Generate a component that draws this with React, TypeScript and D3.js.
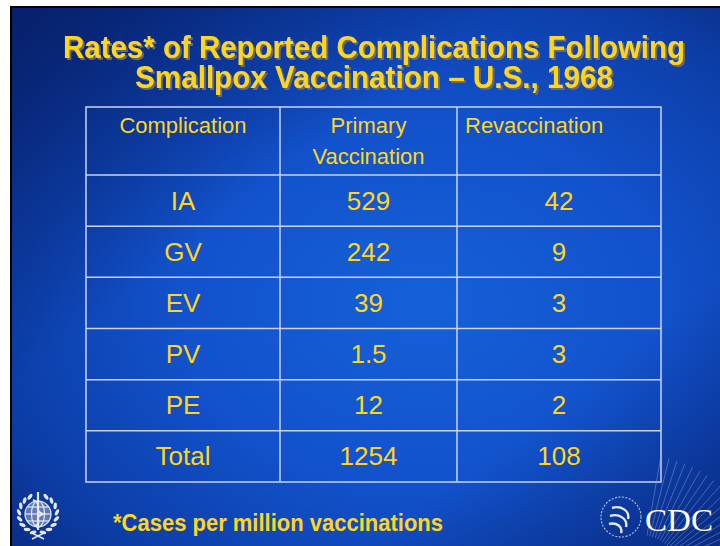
import * as React from "react";
import * as d3 from "d3";

// table content
const complications = ["IA", "GV", "EV", "PV", "PE", "Total"];
const primaryRates = ["529", "242", "39", "1.5", "12", "1254"];
const revaccRates = ["42", "9", "3", "3", "2", "108"];
const headers = ["Complication", "Primary\nVaccination", "Revaccination"];

const titleLines = [
  "Rates* of Reported Complications Following",
  "Smallpox Vaccination \u2013 U.S., 1968",
];
const footnote = "*Cases per million vaccinations";

const W = 720;
const H = 546;
const YELLOW = "#FFD61C";
const LINE = "#c9d3ee";

export default function App() {
  const colEdges = [86, 280, 457, 661];
  const tableTop = 107;
  const headBottom = 175;
  const tableBottom = 482;

  const y = d3.scaleBand<string>().domain(complications).range([headBottom, tableBottom]);
  const colMid = (i: number) => (colEdges[i] + colEdges[i + 1]) / 2;

  const cols = [complications, primaryRates, revaccRates];

  const rays = d3.range(0, 22).map((i) => {
    const a = (-80 + i * 4) * (Math.PI / 180);
    return { x1: 640 + Math.cos(a) * 40, y1: 575 + Math.sin(a) * 40, x2: 640 + Math.cos(a) * 120, y2: 575 + Math.sin(a) * 120 };
  });

  // wreath leaves, left side from bottom to top (y down)
  const leaves = d3.range(0, 8).map((i) => 105 + i * 20);

  return (
    <svg width={W} height={H} style={{ position: "absolute", left: 0, top: 0 }} fontFamily="'Liberation Sans', Arial, sans-serif">
      <defs>
        <radialGradient id="bg" cx="0.58" cy="0.55" r="0.75">
          <stop offset="0" stopColor="#1560d8" />
          <stop offset="0.45" stopColor="#1252cc" />
          <stop offset="0.8" stopColor="#0c3ea8" />
          <stop offset="1" stopColor="#0a2c82" />
        </radialGradient>
        <linearGradient id="tl" x1="0" y1="0" x2="1" y2="1">
          <stop offset="0" stopColor="#071f6a" stopOpacity="0.85" />
          <stop offset="0.35" stopColor="#071f6a" stopOpacity="0" />
          <stop offset="0.75" stopColor="#071f6a" stopOpacity="0" />
          <stop offset="1" stopColor="#071f6a" stopOpacity="0.6" />
        </linearGradient>
        <filter id="shadow" x="-10%" y="-50%" width="120%" height="200%">
          <feDropShadow dx={2} dy={2} stdDeviation={0.3} floodColor="#6a6a74" floodOpacity={1} />
        </filter>
      </defs>
      <rect width={W} height={H} fill="#fff" />
      <rect x={10} y={6} width={W - 10} height={H - 6} fill="#000" />
      <rect x={12} y={8} width={W - 12} height={H - 8} fill="url(#bg)" />
      <rect x={12} y={8} width={W - 12} height={H - 8} fill="url(#tl)" />

      {/* title */}
      <g fontWeight="bold" fontSize={32} textAnchor="middle" fill={YELLOW} filter="url(#shadow)">
        {titleLines.map((t, i) => (
          <text key={t} x={374} y={58 + i * 30} textLength={i === 0 ? 622 : 478} lengthAdjust="spacingAndGlyphs">
            {t}
          </text>
        ))}
      </g>

      {/* table grid */}
      <g stroke={LINE} strokeWidth={1.5} fill="none">
        <rect x={colEdges[0]} y={tableTop} width={colEdges[3] - colEdges[0]} height={tableBottom - tableTop} />
        {colEdges.slice(1, 3).map((x) => (
          <line key={x} x1={x} x2={x} y1={tableTop} y2={tableBottom} />
        ))}
        {complications.map((c) => (
          <line key={c} x1={colEdges[0]} x2={colEdges[3]} y1={y(c)} y2={y(c)} />
        ))}
      </g>

      {/* header */}
      <g fill={YELLOW} fontSize={22}>
        <text x={colMid(0)} y={133} textAnchor="middle">{headers[0]}</text>
        {headers[1].split("\n").map((s, i) => (
          <text key={s} x={colMid(1)} y={133 + i * 31} textAnchor="middle">{s}</text>
        ))}
        <text x={colEdges[2] + 8} y={133}>{headers[2]}</text>
      </g>

      {/* body */}
      <g fill={YELLOW} fontSize={26} textAnchor="middle">
        {cols.map((vals, ci) =>
          vals.map((v, ri) => (
            <text key={ci + "-" + ri} x={colMid(ci)} y={(y(complications[ri]) ?? 0) + y.bandwidth() / 2 + 9}>
              {v}
            </text>
          ))
        )}
      </g>

      {/* footnote */}
      <text x={113} y={531} fill={YELLOW} fontWeight="bold" fontSize={23} textLength={330} lengthAdjust="spacingAndGlyphs">
        {footnote}
      </text>

      {/* WHO emblem */}
      <g transform="translate(38,514)" stroke="#e4e8f2" fill="none" strokeWidth={1.2}>
        <circle r={13} fill="#c9cfdf" fillOpacity={0.45} />
        <ellipse rx={6.5} ry={13} />
        <line x1={-13} x2={13} y1={0} y2={0} />
        <line x1={-11} x2={11} y1={-7} y2={-7} />
        <line x1={-11} x2={11} y1={7} y2={7} />
        <line x1={0} x2={0} y1={-22} y2={16} strokeWidth={2.2} />
        <path d="M-5,-14 C6,-10 -6,-4 5,0 C-6,4 6,8 -3,12" strokeWidth={2} />
        {leaves.map((deg) => {
          const a = (deg * Math.PI) / 180;
          const lx = Math.cos(a) * 19;
          const ly = Math.sin(a) * 19;
          return (
            <g key={deg} fill="#e4e8f2" stroke="none">
              <ellipse cx={lx} cy={ly} rx={3.4} ry={1.7} transform={`rotate(${deg + 60} ${lx} ${ly})`} />
              <ellipse cx={-lx} cy={ly} rx={3.4} ry={1.7} transform={`rotate(${-(deg + 60)} ${-lx} ${ly})`} />
            </g>
          );
        })}
        <path d="M-6,19 L6,25 M6,19 L-6,25" strokeWidth={1.5} />
      </g>

      {/* CDC logo */}
      <g stroke="#9fb2e6" strokeOpacity={0.4} strokeWidth={1}>
        {rays.map((r, i) => (
          <line key={i} x1={r.x1} y1={r.y1} x2={r.x2} y2={r.y2} />
        ))}
      </g>
      <g transform="translate(621,517)" stroke="#e6eaf4" fill="none" strokeWidth={1.1}>
        <circle r={20} strokeDasharray="2 1.5" strokeOpacity={0.8} />
        <path d="M-9,-9 C0,-12 9,-6 7,2 M-11,-1 C-2,-4 7,2 5,10 M-12,7 C-4,5 2,10 0,16" strokeWidth={2.4} />
      </g>
      <text x={645} y={531} fill="#ffffff" fontFamily="'Liberation Serif', 'DejaVu Serif', serif" fontSize={32} textLength={68} lengthAdjust="spacingAndGlyphs">
        CDC
      </text>
    </svg>
  );
}
